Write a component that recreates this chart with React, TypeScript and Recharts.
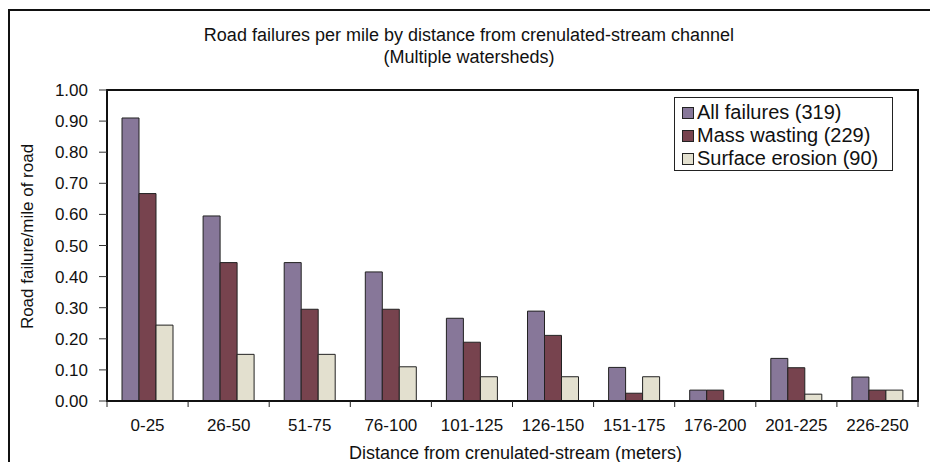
import { BarChart, Bar, XAxis, YAxis, Legend, ReferenceArea, Label } from 'recharts'

const categories = ['0-25', '26-50', '51-75', '76-100', '101-125', '126-150', '151-175', '176-200', '201-225', '226-250']
const allFailures = [0.91, 0.595, 0.445, 0.415, 0.266, 0.289, 0.108, 0.035, 0.137, 0.077]
const massWasting = [0.667, 0.445, 0.295, 0.295, 0.189, 0.211, 0.025, 0.035, 0.107, 0.035]
const surfaceErosion = [0.244, 0.15, 0.15, 0.11, 0.078, 0.078, 0.078, 0, 0.022, 0.035]
const yTicks = [0, 0.1, 0.2, 0.3, 0.4, 0.5, 0.6, 0.7, 0.8, 0.9, 1]

const series = [
  { key: 'all', name: 'All failures (319)', color: '#877799' },
  { key: 'mass', name: 'Mass wasting (229)', color: '#77434e' },
  { key: 'surface', name: 'Surface erosion (90)', color: '#e3e0cf' },
]

const data = categories.map((c, i) => ({
  range: c,
  all: allFailures[i],
  mass: massWasting[i],
  surface: surfaceErosion[i],
}))

const FONT = '"Liberation Sans", Arial, sans-serif'
const W = 938
const H = 470
const M = { top: 90, right: 20, bottom: 0, left: 0 }
const Y_AXIS_W = 107
const BAND = (W - M.left - M.right - Y_AXIS_W) / categories.length

function CategoryTick(props: any) {
  const { x, y, payload, index } = props
  const half = BAND / 2
  return (
    <g>
      <line x1={x - half} x2={x - half} y1={y} y2={y + 6} stroke="#222" />
      {index === categories.length - 1 && <line x1={x + half} x2={x + half} y1={y} y2={y + 6} stroke="#222" />}
      <text x={x} y={y + 18} dy="0.71em" textAnchor="middle" fill="#111" fontSize={17} fontFamily={FONT}>
        {payload.value}
      </text>
    </g>
  )
}

function LegendBox() {
  return (
    <div style={{ border: '1px solid #222', background: '#fff', width: 219, height: 74, boxSizing: 'border-box', padding: '3px 0 0 7px', fontFamily: FONT, fontSize: 20, color: '#111', textAlign: 'left' }}>
      {series.map((s) => (
        <div key={s.key} style={{ display: 'flex', alignItems: 'center', height: 23 }}>
          <span style={{ width: 12, height: 12, background: s.color, border: '1px solid #222', marginRight: 3, boxSizing: 'border-box' }} />
          {s.name}
        </div>
      ))}
    </div>
  )
}

export default function App() {
  return (
    <div style={{ position: 'relative', width: W, height: H, margin: -8, overflow: 'hidden', background: '#fff' }}>
      <div style={{ position: 'absolute', left: 8, top: 9, width: 2000, height: 2000, borderLeft: '2px solid #111', borderTop: '2px solid #111' }} />
      <div style={{ position: 'absolute', left: 0, top: 24, width: W, textAlign: 'center', fontFamily: FONT, fontSize: 18, lineHeight: '22px', color: '#111' }}>
        Road failures per mile by distance from crenulated-stream channel
        <br />
        (Multiple watersheds)
      </div>
      <div style={{ position: 'absolute', left: 0, top: 0 }}>
        <BarChart width={W} height={H} data={data} margin={M} barSize={17} barGap={0}>
          <XAxis dataKey="range" height={69} axisLine={{ stroke: '#111', strokeWidth: 2 }} tickLine={false} tickSize={0} tickMargin={0} tick={<CategoryTick />} interval={0}>
            <Label value="Distance from crenulated-stream (meters)" position="insideBottom" offset={11} dx={3} fill="#111" fontSize={18} fontFamily={FONT} />
          </XAxis>
          <YAxis width={Y_AXIS_W} domain={[0, 1]} ticks={yTicks} interval={0} tickFormatter={(v: number) => v.toFixed(2)} axisLine={{ stroke: '#111', strokeWidth: 2 }} tickLine={{ stroke: '#333' }} tickSize={8} tickMargin={11} tick={{ fill: '#111', fontSize: 17, fontFamily: FONT }}>
            <Label value="Road failure/mile of road" angle={-90} position="insideLeft" offset={27} dy={-9} fill="#111" fontSize={17} fontFamily={FONT} style={{ textAnchor: 'middle' }} />
          </YAxis>
          <ReferenceArea y1={0} y2={1} fill="none" stroke="#111" strokeWidth={2} />
          {series.map((s) => (
            <Bar key={s.key} dataKey={s.key} name={s.name} fill={s.color} stroke="#222" strokeWidth={1} isAnimationActive={false} />
          ))}
          <Legend content={<LegendBox />} layout="vertical" align="center" verticalAlign="middle" wrapperStyle={{ top: 97, left: 674, width: 'auto' }} />
        </BarChart>
      </div>
    </div>
  )
}
